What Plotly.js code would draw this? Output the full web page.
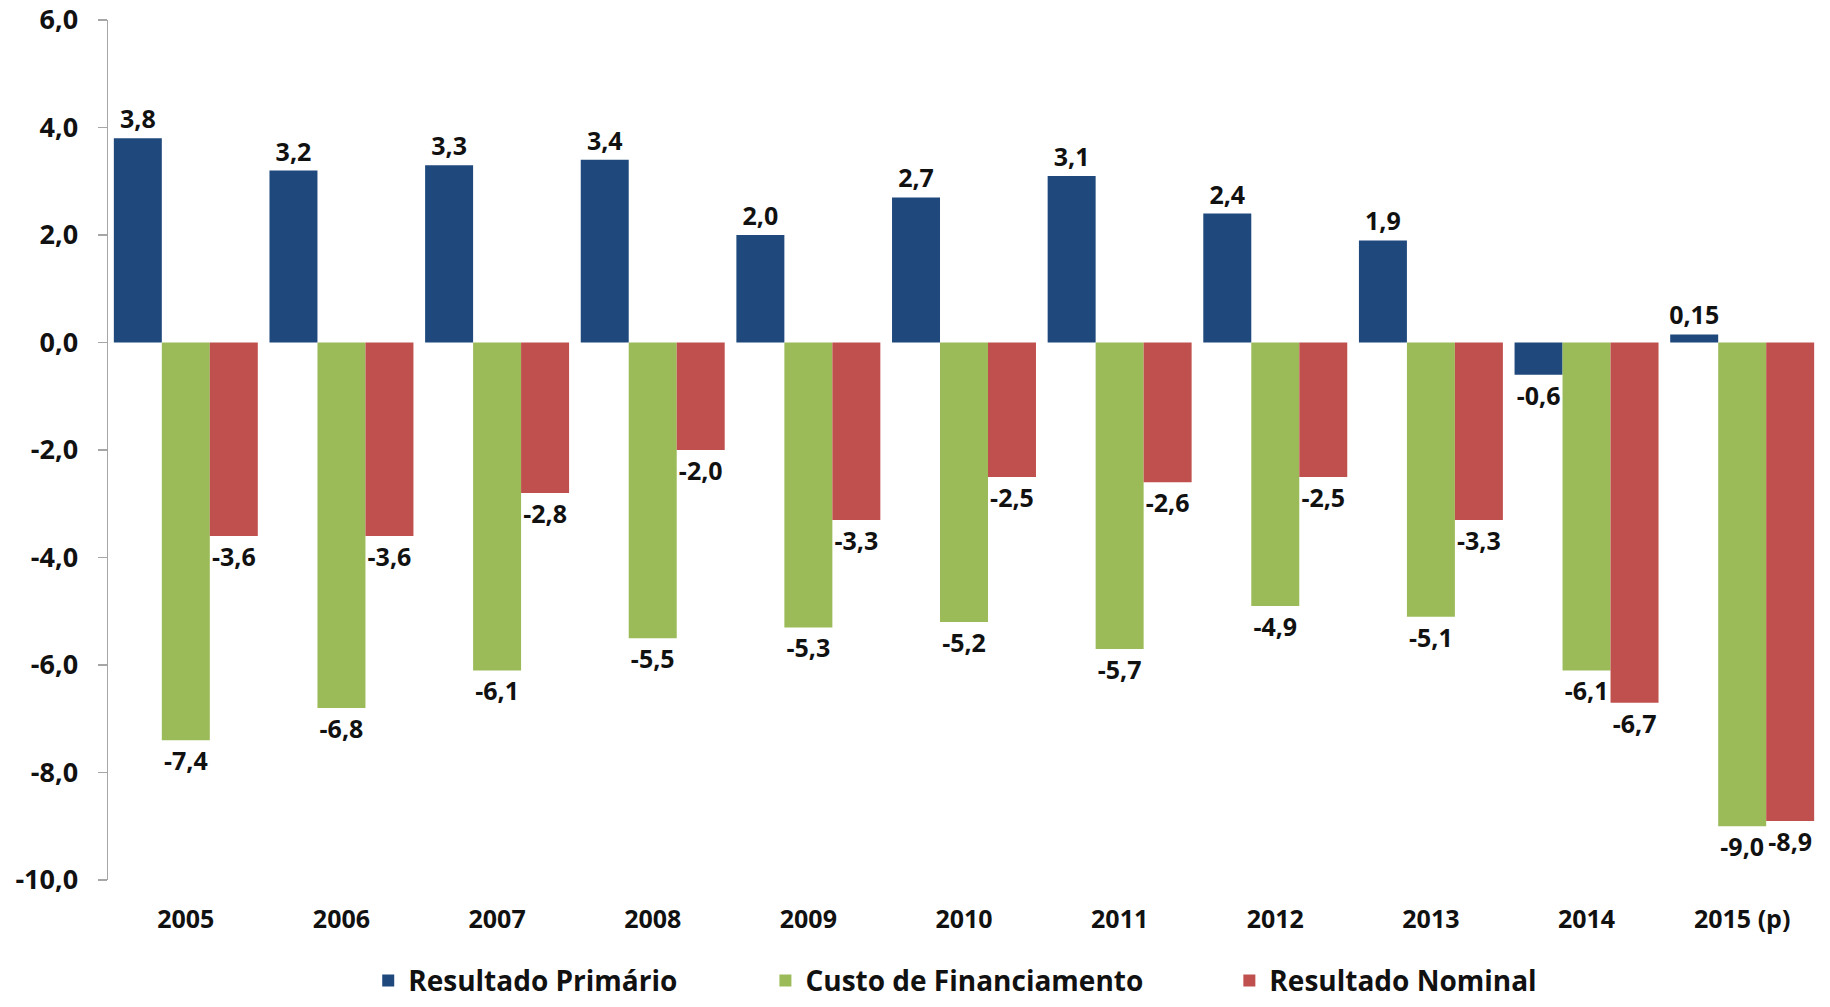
<!DOCTYPE html>
<html><head><meta charset="utf-8">
<script src="https://cdn.plot.ly/plotly-3.0.1.min.js"></script>
<style>html,body{margin:0;padding:0;background:#fff}#chart{width:1830px;height:1007px}</style>
</head><body><div id="chart"></div>
<script>
const years = ['2005','2006','2007','2008','2009','2010','2011','2012','2013','2014','2015 (p)'];
const primario = [3.8, 3.2, 3.3, 3.4, 2.0, 2.7, 3.1, 2.4, 1.9, -0.6, 0.15];
const custo = [-7.4, -6.8, -6.1, -5.5, -5.3, -5.2, -5.7, -4.9, -5.1, -6.1, -9.0];
const nominal = [-3.6, -3.6, -2.8, -2.0, -3.3, -2.5, -2.6, -2.5, -3.3, -6.7, -8.9];
const seriesNames = ['Resultado Primário', 'Custo de Financiamento', 'Resultado Nominal'];
const yTickVals = [-10, -8, -6, -4, -2, 0, 2, 4, 6];
const yRange = [-10, 6];

const colors = ['#1f497d', '#9bbb59', '#c0504d'];
const FONT = 'Open Sans, Liberation Sans, sans-serif';

function fmt(v) {
  const dec = Math.abs(Math.round(v * 100) % 10) !== 0 ? 2 : 1;
  return v.toFixed(dec).replace('.', ',');
}

const series = [primario, custo, nominal];
const legendIds = ['legend', 'legend2', 'legend3'];
const traces = series.map((vals, i) => ({
  type: 'bar',
  name: seriesNames[i],
  x: years,
  y: vals,
  text: vals.map(fmt),
  textposition: 'outside',
  constraintext: 'none',
  cliponaxis: false,
  outsidetextfont: {family: FONT, size: 25, color: '#111', weight: 700},
  marker: {color: colors[i], line: {width: 0}},
  legend: legendIds[i],
  hoverinfo: 'none'
}));

const n = years.length;
const boundaries = Array.from({length: n + 1}, (_, k) => k - 0.5);
const zeroPos = (0 - yRange[0]) / (yRange[1] - yRange[0]);

const legendBase = {orientation: 'h', yanchor: 'middle', xanchor: 'left', yref: 'container', y: 0.026,
  font: {family: FONT, size: 28, color: '#111', weight: 700}, bgcolor: 'rgba(0,0,0,0)', borderwidth: 0};

const layout = {
  width: 1830, height: 1007,
  margin: {l: 108, r: 10, t: 20, b: 127, autoexpand: false},
  paper_bgcolor: '#fff', plot_bgcolor: '#fff',
  font: {family: FONT, color: '#111', weight: 700},
  barmode: 'group',
  bargap: 0.075,
  bargroupgap: 0,
  showlegend: true,
  xaxis: {
    type: 'category', anchor: 'y', showline: false, ticks: '', showgrid: false, zeroline: false,
    tickfont: {family: FONT, size: 25, color: '#111', weight: 700},
    ticklabelstandoff: 22
  },
  xaxis2: {
    overlaying: 'x', anchor: 'free', position: zeroPos, type: 'linear',
    range: [-0.5, n - 0.5], tickvals: boundaries, ticks: 'outside', ticklen: 7,
    tickcolor: '#a6a6a6', tickwidth: 1.5, showline: true, linecolor: '#a6a6a6', linewidth: 1.5,
    showticklabels: false, showgrid: false, zeroline: false, fixedrange: true
  },
  yaxis: {
    range: yRange, tickvals: yTickVals, ticktext: yTickVals.map(fmt),
    showline: true, linecolor: '#a6a6a6', linewidth: 1.5, ticks: 'outside', ticklen: 9,
    tickcolor: '#a6a6a6', tickwidth: 1.5, showgrid: false, zeroline: false,
    tickfont: {family: FONT, size: 27, color: '#111', weight: 700},
    ticklabelstandoff: 14
  },
  separators: ',.',
  legend: Object.assign({}, legendBase, {x: 0.152}),
  legend2: Object.assign({}, legendBase, {x: 0.384}),
  legend3: Object.assign({}, legendBase, {x: 0.655})
};

Plotly.newPlot('chart', traces, layout, {displayModeBar: false, staticPlot: true});
</script>
</body></html>
